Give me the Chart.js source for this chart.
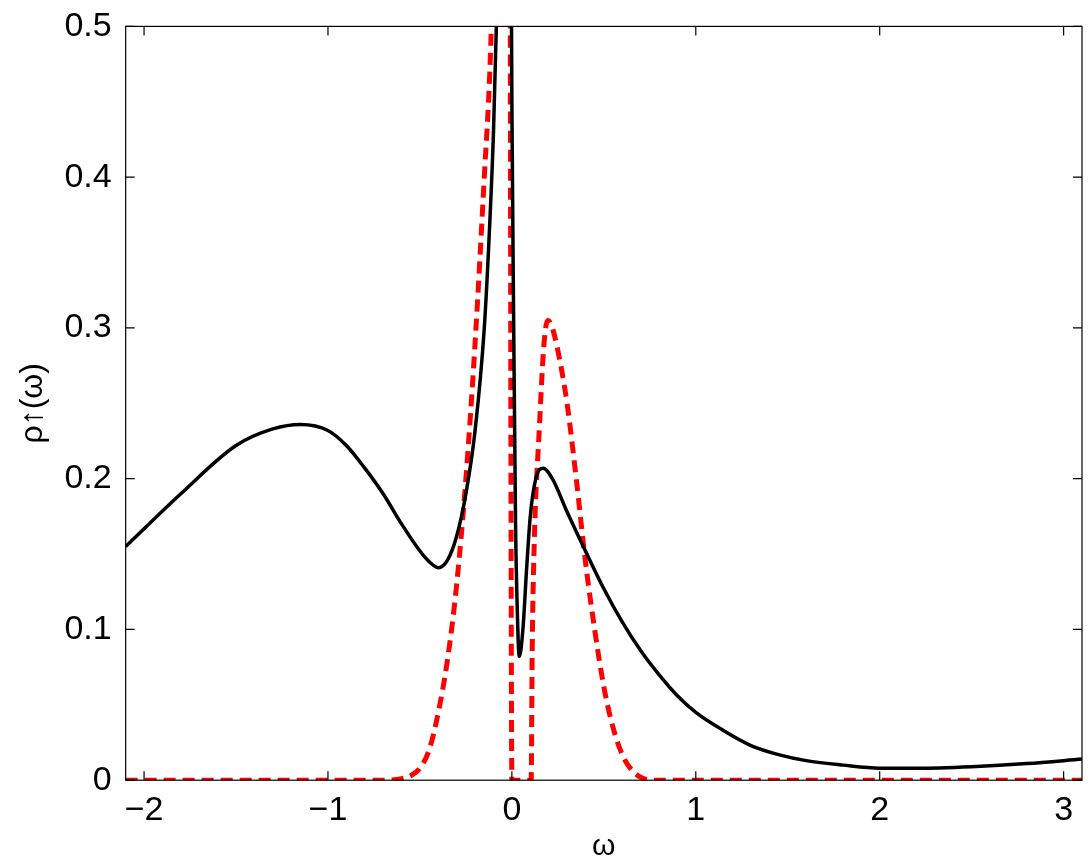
<!DOCTYPE html>
<html><head><script src="https://cdn.jsdelivr.net/npm/chart.js"></script>
<style>body{margin:0;background:#fff}#w{width:1090px;height:865px}</style></head>
<body><div id="w"><canvas id="c"></canvas></div>
<script>
const blackX=[-2.1,-1.8,-1.5,-1.3,-1.15,-1.0,-0.9,-0.8,-0.7,-0.6,-0.5,-0.45,-0.4,-0.35,-0.3,-0.25,-0.2,-0.15,-0.12,-0.1,-0.08,-0.06,-0.04,-0.02,-0.01,0.0,0.01,0.02,0.03,0.04,0.06,0.08,0.1,0.13,0.17,0.22,0.3,0.4,0.5,0.6,0.7,0.8,0.9,1.0,1.15,1.3,1.45,1.6,1.8,2.0,2.2,2.5,2.8,3.1];
const blackY=[0.155,0.19,0.222,0.233,0.236,0.232,0.222,0.207,0.19,0.17,0.152,0.145,0.141,0.146,0.162,0.19,0.232,0.3,0.37,0.43,0.52,0.65,0.8,0.9,0.7,0.45,0.3,0.17,0.11,0.082,0.1,0.14,0.175,0.2,0.207,0.2,0.178,0.152,0.127,0.105,0.086,0.07,0.056,0.045,0.033,0.023,0.017,0.013,0.01,0.008,0.008,0.009,0.011,0.014];
const redX=[-2.1,-0.7,-0.6,-0.55,-0.5,-0.45,-0.4,-0.35,-0.3,-0.25,-0.2,-0.15,-0.12,-0.1,-0.05,-0.02,-0.01,-0.005,0.0,0.05,0.105,0.11,0.12,0.15,0.175,0.195,0.215,0.25,0.3,0.35,0.4,0.45,0.5,0.55,0.6,0.65,0.7,0.8,3.1];
const redY=[0,0,0.001,0.003,0.008,0.02,0.045,0.08,0.13,0.2,0.29,0.4,0.47,0.55,0.8,0.9,0.6,0.2,0,0,0,0.08,0.15,0.235,0.29,0.305,0.302,0.285,0.25,0.2,0.145,0.1,0.062,0.035,0.017,0.007,0.002,0,0];
const xTicks=[-2,-1,0,1,2,3];
const yTicks=[0,0.1,0.2,0.3,0.4,0.5];
const pts=(xs,ys)=>xs.map((x,i)=>({x,y:ys[i]}));
const frame={id:'frame',afterDraw(c){const a=c.chartArea,g=c.ctx;g.save();g.strokeStyle='#000';g.lineWidth=1.2;g.strokeRect(a.left,a.top,a.right-a.left,a.bottom-a.top);
g.beginPath();const xs=c.scales.x,ys=c.scales.y;xTicks.forEach(t=>{const p=xs.getPixelForValue(t);g.moveTo(p,a.bottom);g.lineTo(p,a.bottom-9);g.moveTo(p,a.top);g.lineTo(p,a.top+9);});
yTicks.forEach(t=>{const p=ys.getPixelForValue(t);g.moveTo(a.left,p);g.lineTo(a.left+9,p);g.moveTo(a.right,p);g.lineTo(a.right-9,p);});g.stroke();g.restore();}};
const F={family:'Liberation Sans',size:34};
new Chart(document.getElementById('c'),{type:'scatter',data:{datasets:[
{data:pts(blackX,blackY),showLine:true,borderColor:'#000',borderWidth:3.5,pointRadius:0,cubicInterpolationMode:'monotone'},
{data:pts(redX,redY),showLine:true,borderColor:'#f00',borderWidth:5,borderDash:[12,7],pointRadius:0,cubicInterpolationMode:'monotone'}]},
options:{responsive:true,maintainAspectRatio:false,animation:false,layout:{padding:{top:14,right:8,left:10,bottom:0}},
plugins:{legend:{display:false},tooltip:{enabled:false}},
scales:{x:{type:'linear',min:-2.1,max:3.1,afterBuildTicks:s=>{s.ticks=xTicks.map(v=>({value:v}))},grid:{display:false},border:{display:false},
ticks:{color:'#000',font:F,maxRotation:0,padding:2,callback:v=>v<0?'\u2212'+(-v):String(v)},
title:{display:true,text:'ω',color:'#000',font:{family:'Liberation Sans',size:30},padding:{top:-4,bottom:0}}},
y:{min:0,max:0.5,afterBuildTicks:s=>{s.ticks=yTicks.map(v=>({value:v}))},grid:{display:false},border:{display:false},
ticks:{color:'#000',font:F,padding:6,callback:v=>v===0?'0':v.toFixed(1)},
title:{display:true,text:'ρ↑(ω)',color:'#000',font:{family:'Liberation Sans',size:32},padding:{bottom:6}}}}},
plugins:[frame]});
</script></body></html>
